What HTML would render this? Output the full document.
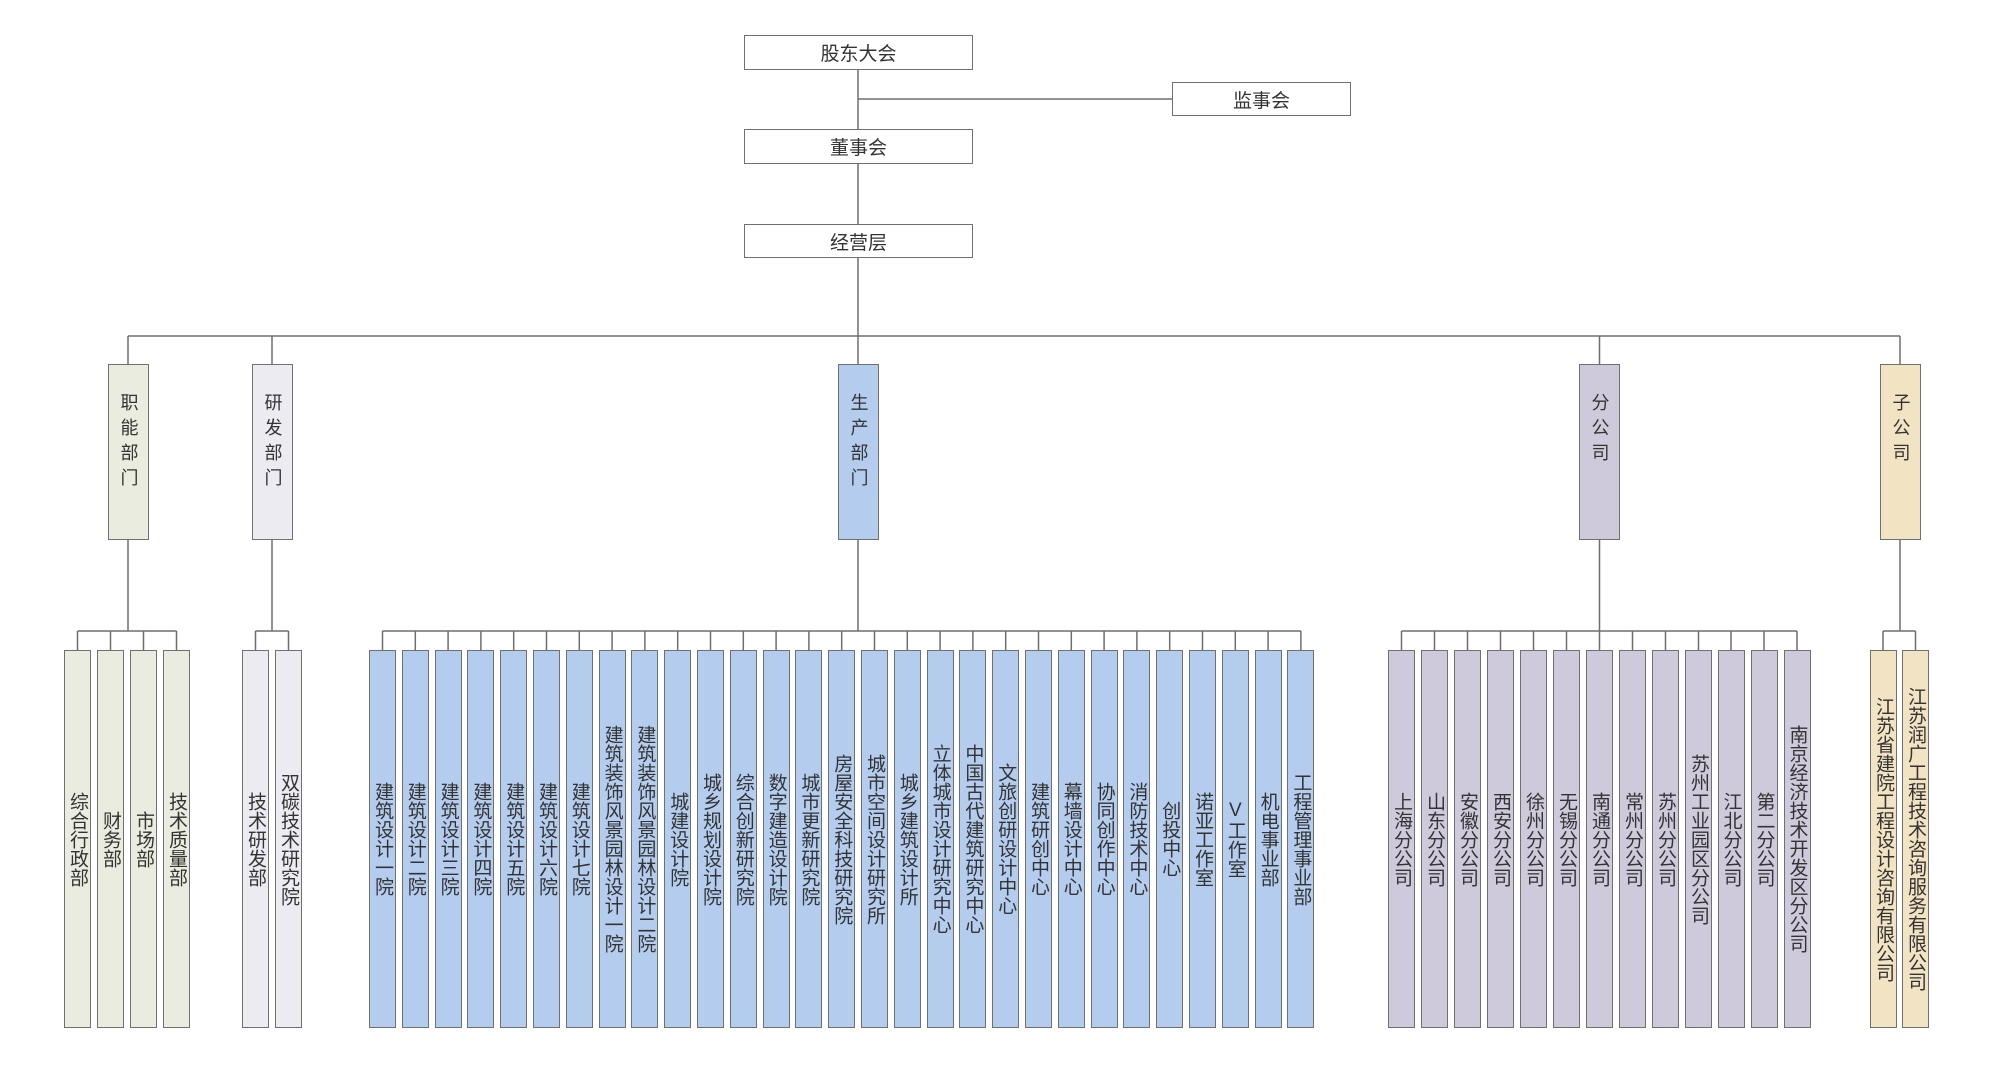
<!DOCTYPE html>
<html><head><meta charset="utf-8"><style>
body{margin:0;width:2000px;height:1069px;background:#fff;position:relative;overflow:hidden;font-family:"Liberation Sans","Noto Sans CJK SC",sans-serif;color:#333}
.h{position:absolute;box-sizing:border-box;border:1.5px solid #707070;background:#fff;display:flex;align-items:center;justify-content:center;font-size:19px}
.v{position:absolute;box-sizing:border-box;border:1.5px solid #707070;display:flex;align-items:center;justify-content:center;writing-mode:vertical-rl;text-orientation:upright;font-size:19px;line-height:1}
.l2{top:364px;height:176px;width:41px;letter-spacing:7px;font-size:18px;justify-content:flex-start;align-items:center;padding-top:28px}
.c{top:650px;height:378px;width:27px}
.g{background:#e9ecde}.p{background:#ecebf2}.b{background:#b4cdee}.u{background:#cfcadb}.y{background:#f2e3c3}
svg{position:absolute;left:0;top:0}
</style></head><body>
<svg width="2000" height="1069" stroke="#6e6e6e" stroke-width="1.5" fill="none">
<path d="M858 70V129M858 99H1172M858 164V224M858 258V364M128 336H1900M128 336V364M272 336V364M1599.5 336V364M1900 336V364"/>
<path d="M128 540V631M77.5 631H176.5M77.5 631V650M110.5 631V650M143.5 631V650M176.5 631V650"/>
<path d="M272 540V631M255.5 631H288.5M255.5 631V650M288.5 631V650"/>
<path d="M858 540V631M382.5 631H1301"/>
<path d="M382.5 631v19M415.3 631v19M448.1 631v19M480.9 631v19M513.7 631v19M546.5 631v19M579.3 631v19M612.1 631v19M644.9 631v19M677.7 631v19M710.5 631v19M743.3 631v19M776.1 631v19M808.9 631v19M841.7 631v19M874.5 631v19M907.3 631v19M940.1 631v19M972.9 631v19M1005.7 631v19M1038.5 631v19M1071.3 631v19M1104.1 631v19M1136.9 631v19M1169.7 631v19M1202.5 631v19M1235.3 631v19M1268.1 631v19M1300.9 631v19"/>
<path d="M1599.5 540V631M1401.5 631H1797M1401.5 631v19M1434.5 631v19M1467.5 631v19M1500.5 631v19M1533.5 631v19M1566.5 631v19M1599.5 631v19M1632.5 631v19M1665.5 631v19M1698.5 631v19M1731 631v19M1764 631v19M1797 631v19"/>
<path d="M1900 540V631M1883 631H1915.5M1883 631v19M1915.5 631v19"/>
</svg>
<div class="h" style="left:744px;top:35px;width:229px;height:35px">股东大会</div>
<div class="h" style="left:1172px;top:82px;width:179px;height:34px">监事会</div>
<div class="h" style="left:744px;top:129px;width:229px;height:35px">董事会</div>
<div class="h" style="left:744px;top:224px;width:229px;height:34px">经营层</div>

<div class="v l2 g" style="left:108px">职能部门</div>
<div class="v l2 p" style="left:252px">研发部门</div>
<div class="v l2 b" style="left:838px">生产部门</div>
<div class="v l2 u" style="left:1579px">分公司</div>
<div class="v l2 y" style="left:1880px">子公司</div>

<div class="v c g" style="left:64px">综合行政部</div>
<div class="v c g" style="left:97px">财务部</div>
<div class="v c g" style="left:130px">市场部</div>
<div class="v c g" style="left:163px">技术质量部</div>

<div class="v c p" style="left:242px">技术研发部</div>
<div class="v c p" style="left:275px">双碳技术研究院</div>

<div class="v c b" style="left:369px">建筑设计一院</div>
<div class="v c b" style="left:401.8px">建筑设计二院</div>
<div class="v c b" style="left:434.6px">建筑设计三院</div>
<div class="v c b" style="left:467.4px">建筑设计四院</div>
<div class="v c b" style="left:500.2px">建筑设计五院</div>
<div class="v c b" style="left:533px">建筑设计六院</div>
<div class="v c b" style="left:565.8px">建筑设计七院</div>
<div class="v c b" style="left:598.6px">建筑装饰风景园林设计一院</div>
<div class="v c b" style="left:631.4px">建筑装饰风景园林设计二院</div>
<div class="v c b" style="left:664.2px">城建设计院</div>
<div class="v c b" style="left:697px">城乡规划设计院</div>
<div class="v c b" style="left:729.8px">综合创新研究院</div>
<div class="v c b" style="left:762.6px">数字建造设计院</div>
<div class="v c b" style="left:795.4px">城市更新研究院</div>
<div class="v c b" style="left:828.2px">房屋安全科技研究院</div>
<div class="v c b" style="left:861px">城市空间设计研究所</div>
<div class="v c b" style="left:893.8px">城乡建筑设计所</div>
<div class="v c b" style="left:926.6px">立体城市设计研究中心</div>
<div class="v c b" style="left:959.4px">中国古代建筑研究中心</div>
<div class="v c b" style="left:992.2px">文旅创研设计中心</div>
<div class="v c b" style="left:1025px">建筑研创中心</div>
<div class="v c b" style="left:1057.8px">幕墙设计中心</div>
<div class="v c b" style="left:1090.6px">协同创作中心</div>
<div class="v c b" style="left:1123.4px">消防技术中心</div>
<div class="v c b" style="left:1156.2px">创投中心</div>
<div class="v c b" style="left:1189px">诺亚工作室</div>
<div class="v c b" style="left:1221.8px">V工作室</div>
<div class="v c b" style="left:1254.6px">机电事业部</div>
<div class="v c b" style="left:1287.4px">工程管理事业部</div>

<div class="v c u" style="left:1388px">上海分公司</div>
<div class="v c u" style="left:1421px">山东分公司</div>
<div class="v c u" style="left:1454px">安徽分公司</div>
<div class="v c u" style="left:1487px">西安分公司</div>
<div class="v c u" style="left:1520px">徐州分公司</div>
<div class="v c u" style="left:1553px">无锡分公司</div>
<div class="v c u" style="left:1586px">南通分公司</div>
<div class="v c u" style="left:1619px">常州分公司</div>
<div class="v c u" style="left:1652px">苏州分公司</div>
<div class="v c u" style="left:1685px">苏州工业园区分公司</div>
<div class="v c u" style="left:1717.5px">江北分公司</div>
<div class="v c u" style="left:1750.5px">第二分公司</div>
<div class="v c u" style="left:1783.5px">南京经济技术开发区分公司</div>

<div class="v c y" style="left:1870px">江苏省建院工程设计咨询有限公司</div>
<div class="v c y" style="left:1902px">江苏润广工程技术咨询服务有限公司</div>
</body></html>
